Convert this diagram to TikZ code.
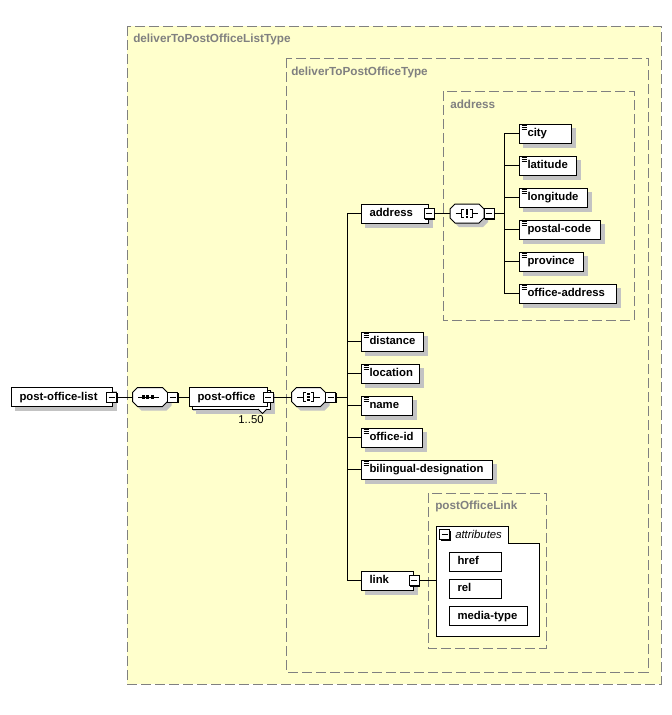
\documentclass[tikz,border=0pt]{standalone}
\usepackage{fontspec}
\setmainfont{Liberation Sans}
\definecolor{bgy}{RGB}{255,255,204}
\definecolor{dgray}{RGB}{128,128,128}
\definecolor{shg}{RGB}{195,195,195}
\newcommand\elfont{\bfseries\fontsize{8.5}{10}\selectfont}
\newcommand\grfont{\bfseries\fontsize{8.8}{10}\selectfont}
\pgfdeclarelayer{grp}
\pgfdeclarelayer{shad}
\pgfsetlayers{grp,shad,main}
\tikzset{
  grp/.style={draw=dgray, fill=bgy, line width=0.75pt, dash pattern=on 7.5pt off 3pt},
  grptitle/.style={text=dgray, font=\grfont, anchor=west, inner sep=0pt},
  el/.style={draw=black, fill=white, line width=0.75pt, minimum height=14.25pt,
    inner ysep=0pt, inner xsep=6pt, align=left, font=\elfont, anchor=west,
    text height=6.3pt, text depth=1.8pt},
  simp/.style={el, path picture={
      \foreach \d in {1.8,3.5,5.2}
        \draw[line width=0.55pt] ([shift={(2,\d)}]path picture bounding box.north west) -- ++(5.5,0);}},
  compbox/.style={minimum width=#1*0.75pt, minimum height=14.25pt, inner sep=0pt, outer sep=0pt},
  mbox/.style={draw=black, fill=white, line width=0.75pt, minimum size=7.5pt, inner sep=0pt,
    path picture={\draw[line width=0.75pt] ([xshift=1.5pt]path picture bounding box.west) -- ([xshift=-1.5pt]path picture bounding box.east);}},
  conn/.style={draw=black, line width=0.75pt},
  sym/.style={line width=0.75pt}
}
% element node with shadow
\newcommand\EL[6][el]{%
  \pgfmathsetlengthmacro\tw{#5*0.75pt-12pt}%
  \node[#1, minimum width=#5*0.75pt, text width=\tw] (#2) at (#3,#4) {#6};
  \begin{pgfonlayer}{shad}
    \fill[shg] ([shift={(3pt,-3pt)}]#2.south west) rectangle ([shift={(3pt,-3pt)}]#2.north east);
  \end{pgfonlayer}}
% minus box
\newcommand\MB[2]{%
  \path #2 coordinate (#1-c);
  \fill[black] ([shift={(-3pt,-4.5pt)}]#1-c) rectangle ([shift={(4.5pt,3pt)}]#1-c);
  \node[mbox] (#1) at (#1-c) {};}
% compositor octagon
\newcommand\octpath[1]{([xshift=3.75pt]#1.north west) -- ([xshift=-3.75pt]#1.north east)
  -- ([yshift=-3.75pt]#1.north east) -- ([yshift=3.75pt]#1.south east)
  -- ([xshift=-3.75pt]#1.south east) -- ([xshift=3.75pt]#1.south west)
  -- ([yshift=3.75pt]#1.south west) -- ([yshift=-3.75pt]#1.north west) -- cycle}
\newcommand\COMP[4]{%
  \node[compbox=#4] (#1) at (#2,#3) {};
  \begin{pgfonlayer}{shad}
    \fill[shg, transform canvas={xshift=3pt,yshift=-3pt}] \octpath{#1};
  \end{pgfonlayer}
  \draw[line width=0.75pt, fill=white] \octpath{#1};}
\newcommand\ALLSYM[1]{%
  \draw[sym] ([xshift=-8.5pt]#1.center) -- ([xshift=-4pt]#1.center);
  \draw[sym] ([xshift=4pt]#1.center) -- ([xshift=8.5pt]#1.center);
  \draw[sym] ([xshift=-2pt,yshift=3.2pt]#1.center) -- ([xshift=-4pt,yshift=3.2pt]#1.center)
     -- ([xshift=-4pt,yshift=-3.2pt]#1.center) -- ([xshift=-2pt,yshift=-3.2pt]#1.center);
  \draw[sym] ([xshift=2pt,yshift=3.2pt]#1.center) -- ([xshift=4pt,yshift=3.2pt]#1.center)
     -- ([xshift=4pt,yshift=-3.2pt]#1.center) -- ([xshift=2pt,yshift=-3.2pt]#1.center);
  \foreach \dy in {-2.4,0,2.4}
    \fill ([yshift=\dy pt]#1.center) +(-0.9pt,-0.9pt) rectangle +(0.9pt,0.9pt);}
\begin{document}
\begin{tikzpicture}[x=0.75pt,y=-0.75pt]
\useasboundingbox (0,0) rectangle (672,715);
% group boxes
\begin{pgfonlayer}{grp}
\fill[white] (0,0) rectangle (672,715);
\draw[grp] (127,26) rectangle (661,684);
\draw[grp] (286,58) rectangle (648,672);
\draw[grp] (443,91) rectangle (634,320);
\draw[grp] (428,493) rectangle (546,648);
\end{pgfonlayer}
\node[grptitle] (t-list) at (133,39) {deliverToPostOfficeListType};
\node[grptitle] (t-po) at (291,72) {deliverToPostOfficeType};
\node[grptitle] (t-addr) at (450,104) {address};
\node[grptitle] (t-link) at (435,506) {postOfficeLink};

% root
\EL{pol}{11}{397}{101}{post-office-list}
\MB{m-pol}{([xshift=-1pt]pol.east)}
% sequence 1
\COMP{c1}{150}{397}{35}
\MB{m-c1}{([xshift=3.75pt]c1.east)}
\draw[sym] ([xshift=-9pt]c1.center) -- ([xshift=7pt]c1.center);
\foreach \dx in {-4.8,-1.6,1.6}
  \fill ([xshift=\dx pt]c1.center) +(-1.15pt,-1.15pt) rectangle +(1.15pt,1.15pt);
% post-office (multiple)
\EL{po-back}{192}{400}{78}{\phantom{post-office}}
\EL{po}{189}{397}{78}{post-office}
\MB{m-po}{(po.east)}
\coordinate (v1) at (258,409);
\coordinate (v2) at (262.5,413.5);
\coordinate (v3) at (267,409);
\draw[line width=0.75pt, fill=white] (v1) -- (v2) -- (v3);
\node[font=\fontsize{8.5}{10}\selectfont, inner sep=0pt] (occ) at (251,420) {1..50};
% all 2
\COMP{c2}{308.5}{397}{34}
\MB{m-c2}{([xshift=3.75pt]c2.east)}
\ALLSYM{c2}
% trunk 1
\coordinate (tr1a) at (347,213.5);
\coordinate (tr1b) at (347,580.5);
% children
\EL{addr}{361}{213.5}{67}{address}
\MB{m-addr}{(addr.east)}
\EL[simp]{dist}{361}{341.5}{62}{distance}
\EL[simp]{loc}{361}{373.5}{58}{location}
\EL[simp]{nam}{361}{405.5}{51}{name}
\EL[simp]{oid}{361}{437.5}{61}{office-id}
\EL[simp]{bil}{361}{469.5}{131}{bilingual-designation}
\EL{lnk}{361}{580.5}{52}{link}
\MB{m-lnk}{(lnk.east)}
% address compositor
\COMP{c3}{467}{213.5}{34}
\MB{m-c3}{([xshift=3.75pt]c3.east)}
\ALLSYM{c3}
\coordinate (tr2a) at (504,133.5);
\coordinate (tr2b) at (504,293.5);
\EL[simp]{city}{519}{133.5}{52}{city}
\EL[simp]{lat}{519}{165.5}{57}{latitude}
\EL[simp]{lon}{519}{197.5}{68}{longitude}
\EL[simp]{pc}{519}{229.5}{81}{postal-code}
\EL[simp]{prov}{519}{261.5}{64}{province}
\EL[simp]{oadr}{519}{293.5}{97}{office-address}
% attributes
\draw[line width=0.75pt, fill=white] (436,526) -- (508,526) -- (508,543) -- (539,543)
  -- (539,636) -- (436,636) -- cycle;
\coordinate (attrin) at (436,580.5);
\MB{m-attr}{(444.5,534.5)}
\node[font=\itshape\fontsize{8.5}{10}\selectfont, anchor=west, inner sep=0pt] (attrt) at (455,534.5) {attributes};
\EL{href}{449}{561.5}{52}{href}
\EL{rel}{449}{588.5}{52}{rel}
\EL{mt}{449}{616}{78}{media-type}

% connectors
\draw[conn] (m-pol.east) -- (c1.west);
\draw[conn] (m-c1.east) -- (po.west);
\draw[conn] (m-po.east) -- (c2.west);
\draw[conn] (m-c2.east) -- (m-c2.east -| tr1a);
\draw[conn] (tr1a) -- (tr1b);
\draw[conn] (tr1a) -- (addr.west);
\foreach \n in {dist,loc,nam,oid,bil,lnk}
  \draw[conn] (tr1a |- \n.west) -- (\n.west);
\draw[conn] (m-addr.east) -- (c3.west);
\draw[conn] (m-c3.east) -- (m-c3.east -| tr2a);
\draw[conn] (tr2a) -- (tr2b);
\foreach \n in {city,lat,lon,pc,prov,oadr}
  \draw[conn] (tr2a |- \n.west) -- (\n.west);
\draw[conn] (m-lnk.east) -- (attrin);
\end{tikzpicture}
\end{document}
